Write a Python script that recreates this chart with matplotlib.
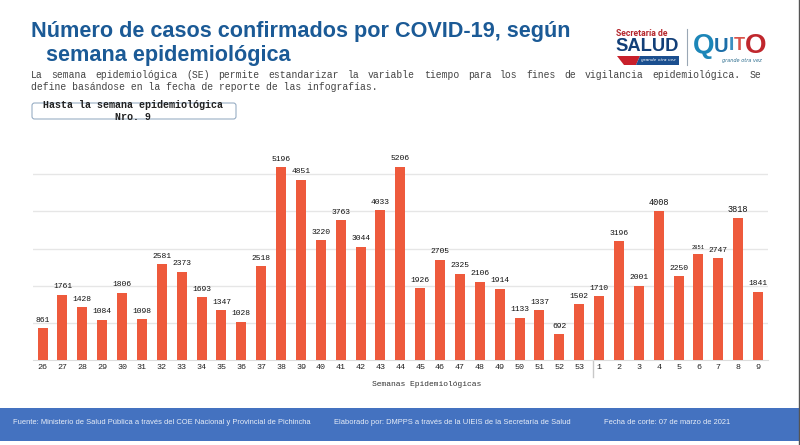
import matplotlib
matplotlib.use('Agg')
import matplotlib.pyplot as plt
from matplotlib.font_manager import FontProperties
from matplotlib.patches import FancyBboxPatch, Polygon, Rectangle

# === datos ===
semanas = ['26', '27', '28', '29', '30', '31', '32', '33', '34', '35', '36', '37', '38', '39',
           '40', '41', '42', '43', '44', '45', '46', '47', '48', '49', '50', '51', '52', '53',
           '1', '2', '3', '4', '5', '6', '7', '8', '9']
casos = [861, 1761, 1428, 1084, 1806, 1098, 2581, 2373, 1693, 1347, 1028, 2518, 5196, 4851,
         3220, 3763, 3044, 4033, 5206, 1926, 2705, 2325, 2106, 1914, 1133, 1337, 692, 1502,
         1710, 3196, 2001, 4008, 2250, 2851, 2747, 3818, 1841]
lineas_grid = [1000, 2000, 3000, 4000, 5000]

titulo_1 = 'Número de casos confirmados por COVID-19, según'
titulo_2 = 'semana epidemiológica'
intro_1 = ('La semana epidemiológica (SE) permite estandarizar la variable tiempo '
           'para los fines de vigilancia epidemiológica. Se')
intro_2 = 'define basándose en la fecha de reporte de las infografías.'
pie = [(13, 'Fuente: Ministerio de Salud Pública a través del COE Nacional y Provincial de Pichincha'),
       (334, 'Elaborado por: DMPPS a través de la UIEIS de la Secretaría de Salud'),
       (604, 'Fecha de corte: 07 de marzo de 2021')]

AZUL = '#1b5a96'
NARANJA = '#ee5a3c'
MONO = 'Liberation Mono'
W, H = 800, 445

fig = plt.figure(figsize=(W / 100, H / 100), dpi=100, facecolor='white')

# capa en pixeles para titulo, caja, logo y pie
bg = fig.add_axes([0, 0, 1, 1])
bg.set_xlim(0, W)
bg.set_ylim(H, 0)
bg.axis('off')

# --- grafico de barras ---
ax = fig.add_axes([33 / W, (H - 360) / H, 735 / W, 208 / H])
ax.patch.set_alpha(0)
x = list(range(len(semanas)))
ax.bar(x, casos, width=0.5, color=NARANJA, zorder=3)
ax.set_xlim(-0.48, 36.5)
ax.set_ylim(0, 5600)
ax.set_yticks(lineas_grid)
ax.set_yticklabels([])
ax.grid(axis='y', color='#e6e6e6', lw=1, zorder=0)
ax.tick_params(length=0)
ax.set_xticks(x)
ax.set_xticklabels(semanas, family=MONO, fontsize=6, color='#222222')
ax.tick_params(axis='x', pad=3.2)
for s in ['top', 'left', 'right']:
    ax.spines[s].set_visible(False)
ax.spines['bottom'].set_color('#dddddd')

# tamanos de etiqueta que salen distintos en el original
tam_especial = {'2851': 4.0, '4008': 6.2, '3818': 6.2}
for xi, v in zip(x, casos):
    etiqueta = str(v)
    ax.annotate(etiqueta, (xi, v), xytext=(0, 3.2), textcoords='offset points', ha='center',
                va='bottom', family=MONO, fontsize=tam_especial.get(etiqueta, 5.8), color='#111111')

# separador entre 2020 y 2021
bg.plot([592.7, 592.7], [360, 377], color='#c8c8c8', lw=1)
bg.text(427, 384, 'Semanas Epidemiológicas', family=MONO, fontsize=5.8, color='#333333',
        ha='center', va='center')

# --- encabezado ---
bg.text(31, 32, titulo_1, family='Liberation Sans', weight='bold', fontsize=15.6, color=AZUL, va='center')
bg.text(46, 55, titulo_2, family='Liberation Sans', weight='bold', fontsize=15.6, color=AZUL, va='center')

# primera linea justificada palabra por palabra
fp = FontProperties(family=MONO, size=7.05)
palabras = intro_1.split(' ')
paso_letra = 5.87
hueco = (761 - 31 - sum(len(p) for p in palabras) * paso_letra) / (len(palabras) - 1)
cur = 31
for p in palabras:
    bg.text(cur, 75, p, fontproperties=fp, color='#444444', va='center')
    cur += len(p) * paso_letra + hueco
bg.text(31, 87, intro_2, fontproperties=fp, color='#444444', va='center')

bg.add_patch(FancyBboxPatch((32, 103), 204, 16, boxstyle='round,pad=0,rounding_size=2.5',
                            fc='white', ec='#8ba3bd', lw=0.7))
bg.text(133, 105, 'Hasta la semana epidemiológica', family=MONO, weight='bold', fontsize=7.2,
        color='#222222', ha='center', va='center')
bg.text(133, 116.5, 'Nro. 9', family=MONO, weight='bold', fontsize=7.2, color='#222222',
        ha='center', va='center')

# --- logos ---
bg.text(616, 34, 'Secretaría de', family='Roboto', weight='bold', fontsize=6.2, color='#b5272d', va='center')
bg.text(615.5, 46.5, 'SALUD', family='Liberation Sans', weight='bold', fontsize=13.2, color='#123f78', va='center')
bg.add_patch(Polygon([(617, 56), (640, 56), (636, 65), (624, 65)], fc='#c8202b', ec='none'))
bg.add_patch(Polygon([(640, 56), (679, 56), (679, 65), (636, 65)], fc='#1b4f8f', ec='none'))
bg.text(658, 60.5, 'grande otra vez', family='DejaVu Sans', style='italic', fontsize=3.2,
        color='white', ha='center', va='center')
bg.plot([687, 687], [29, 65], color='#9aa7b5', lw=0.8)
letras_quito = [('Q', 703.5, '#1c86b8', 20), ('U', 721, '#1c6ea8', 14.5), ('I', 731, '#3d8fc0', 14),
                ('T', 739.5, '#d9534a', 13), ('O', 755.5, '#c0272d', 20)]
for letra, lx, col, tam in letras_quito:
    bg.text(lx, 46, letra, family='Liberation Sans', weight='bold', fontsize=tam, color=col,
            ha='center', va='center')
bg.text(742, 60.5, 'grande otra vez', family='DejaVu Sans', style='italic', fontsize=3.6,
        color='#2f6f8f', ha='center', va='center')

# --- pie ---
bg.add_patch(Rectangle((0, 408), W, 33, fc='#4472c0', ec='none'))
for px, txt in pie:
    bg.text(px, 423, txt, family='Liberation Sans', fontsize=5.4, color='#e8eef8', va='center')

# borde derecho de la captura
bg.plot([798.6, 798.6], [0, H], color='#555555', lw=1)

fig.savefig('out.png', dpi=100)
